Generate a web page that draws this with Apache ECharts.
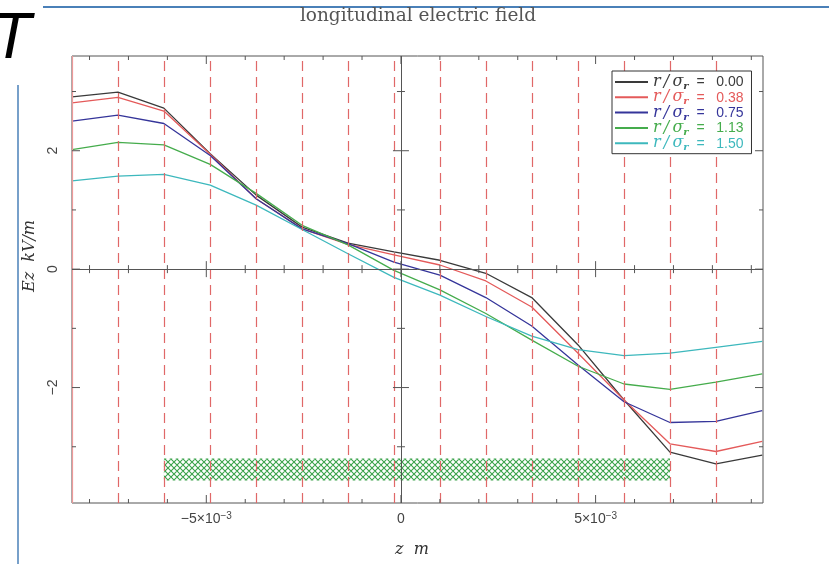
<!DOCTYPE html>
<html><head><meta charset="utf-8">
<script src="https://cdn.jsdelivr.net/npm/echarts@6/dist/echarts.min.js"></script>
<style>html,body{margin:0;padding:0;background:#fff}#c{width:829px;height:564px}</style>
</head><body><div id="c"></div>
<script>
// z positions in units of 1e-3 m (grid cell boundaries, also the red dashed markers)
const zMilli = [-8.45, -7.27, -6.09, -4.90, -3.72, -2.54, -1.36, -0.18, 1.00, 2.18, 3.36, 4.55, 5.73, 6.91, 8.09, 9.28];
const ez000 = [2.91, 2.99, 2.72, 1.95, 1.25, 0.71, 0.44, 0.29, 0.15, -0.07, -0.48, -1.28, -2.21, -3.09, -3.29, -3.14];
const ez038 = [2.81, 2.90, 2.67, 1.94, 1.19, 0.68, 0.42, 0.24, 0.07, -0.20, -0.64, -1.42, -2.21, -2.95, -3.08, -2.91];
const ez075 = [2.50, 2.60, 2.46, 1.92, 1.19, 0.68, 0.43, 0.12, -0.10, -0.48, -0.96, -1.62, -2.24, -2.59, -2.57, -2.39];
const ez113 = [2.02, 2.14, 2.10, 1.77, 1.28, 0.74, 0.41, -0.02, -0.35, -0.75, -1.20, -1.64, -1.94, -2.03, -1.91, -1.77];
const ez150 = [1.49, 1.57, 1.60, 1.42, 1.08, 0.67, 0.26, -0.14, -0.44, -0.80, -1.13, -1.36, -1.46, -1.42, -1.32, -1.22];
const radii = ['0.00', '0.38', '0.75', '1.13', '1.50'];
const seriesColors = ['#3a3a3a', '#e45a5a', '#35359a', '#45ac4c', '#3db8bd'];
const markerZ = [-8.45, -7.27, -6.09, -4.90, -3.72, -2.54, -1.36, -0.18, 1.00, 2.18, 3.36, 4.55, 5.73, 6.91, 8.09];
const bunchZ = [-6.09, 6.91];
const bunchY = [-3.57, -3.20];
const xTickValues = [-8, -7, -6, -5, -4, -3, -2, -1, 0, 1, 2, 3, 4, 5, 6, 7, 8, 9];
const xMajorTicks = [-5, 0, 5];
const yTickValues = [-3, -2, -1, 0, 1, 2, 3];
const yMajorTicks = [-2, 0, 2];
const xLabelValues = [-5, 0, 5];
const yLabelValues = [-2, 0, 2];
const xMin = -8.45, xMax = 9.3, yMin = -3.95, yMax = 3.6;

const allEz = [ez000, ez038, ez075, ez113, ez150];

// crosshatch pattern
const pat = document.createElement('canvas');
pat.width = 6; pat.height = 6;
(function () {
  const g = pat.getContext('2d');
  g.strokeStyle = '#3aa24a'; g.lineWidth = 1.1;
  g.beginPath();
  g.moveTo(0, 0); g.lineTo(6, 6);
  g.moveTo(6, 0); g.lineTo(0, 6);
  g.moveTo(-3, 3); g.lineTo(3, 9);
  g.moveTo(3, -3); g.lineTo(9, 3);
  g.stroke();
})();

function tickSeries(values, majors, dim) {
  return {
    type: 'custom', silent: true, z: 6, clip: false,
    data: values.map(v => dim === 'x' ? [v, 0] : [0, v]),
    encode: { x: 0, y: 1 },
    renderItem(params, api) {
      const v = dim === 'x' ? api.value(0) : api.value(1);
      const len = majors.includes(v) ? 8 : 4;
      const st = { stroke: '#555', lineWidth: 1 };
      const ch = [];
      if (dim === 'x') {
        const b = api.coord([v, yMin]), t = api.coord([v, yMax]), z = api.coord([v, 0]);
        ch.push({ type: 'line', shape: { x1: b[0], y1: b[1], x2: b[0], y2: b[1] - len }, style: st });
        ch.push({ type: 'line', shape: { x1: t[0], y1: t[1], x2: t[0], y2: t[1] + len }, style: st });
        ch.push({ type: 'line', shape: { x1: z[0], y1: z[1] - len, x2: z[0], y2: z[1] + len }, style: st });
      } else {
        const l = api.coord([xMin, v]), r = api.coord([xMax, v]), z = api.coord([0, v]);
        ch.push({ type: 'line', shape: { x1: l[0], y1: l[1], x2: l[0] + len, y2: l[1] }, style: st });
        ch.push({ type: 'line', shape: { x1: r[0], y1: r[1], x2: r[0] - len, y2: r[1] }, style: st });
        ch.push({ type: 'line', shape: { x1: z[0] - len, y1: z[1], x2: z[0] + len, y2: z[1] }, style: st });
      }
      return { type: 'group', children: ch };
    }
  };
}

const names = radii.map(r => 'r/σr = ' + r);
const legendRich = c => ({
  i: { fontFamily: 'DejaVu Serif', fontStyle: 'italic', fontSize: 16, lineHeight: 13, verticalAlign: 'middle', color: c },
  sub: { fontFamily: 'DejaVu Serif', fontStyle: 'italic', fontWeight: 'bold', fontSize: 10, lineHeight: 13, color: c, verticalAlign: 'top', padding: [6, 0, 0, 0] },
  n: { fontFamily: 'Liberation Sans', fontSize: 14, lineHeight: 13, verticalAlign: 'middle', padding: [1, 0, 0, 0], color: c }
});

const series = allEz.map((arr, k) => ({
  name: names[k], type: 'line', symbol: 'none', z: 4,
  lineStyle: { color: seriesColors[k], width: 1.3 },
  itemStyle: { color: seriesColors[k] },
  data: zMilli.map((z, i) => [z, arr[i]])
}));

series.push({
  type: 'line', data: [], silent: true, z: 2,
  markLine: {
    silent: true, symbol: 'none', animation: false,
    label: { show: false },
    lineStyle: { color: '#e06868', type: [10, 6], width: 1.2 },
    data: markerZ.map((v, i) => i === 0 ? { xAxis: v, lineStyle: { type: 'solid', color: '#e99' } } : { xAxis: v })
  }
});
series.push({
  type: 'line', data: [], silent: true, z: 3,
  markLine: {
    silent: true, symbol: 'none', animation: false,
    label: { show: false },
    lineStyle: { color: '#555', type: 'solid', width: 1 },
    data: [{ xAxis: 0 }, { yAxis: 0 }]
  }
});
series.push({
  type: 'custom', silent: true, z: 3,
  data: [[bunchZ[0], bunchY[0], bunchZ[1], bunchY[1]]],
  encode: { x: [0, 2], y: [1, 3] },
  renderItem(params, api) {
    const p0 = api.coord([api.value(0), api.value(3)]);
    const p1 = api.coord([api.value(2), api.value(1)]);
    return { type: 'rect', shape: { x: p0[0], y: p0[1], width: p1[0] - p0[0], height: p1[1] - p0[1] },
      style: { fill: { image: pat, repeat: 'repeat' } } };
  }
});
series.push(tickSeries(xTickValues, xMajorTicks, 'x'));
series.push(tickSeries(yTickValues, yMajorTicks, 'y'));

const chart = echarts.init(document.getElementById('c'), null, { renderer: 'canvas' });
chart.setOption({
  animation: false,
  backgroundColor: '#fff',
  grid: { left: 72, right: 66, top: 56, bottom: 61, show: true, borderColor: '#555', borderWidth: 1, backgroundColor: 'transparent' },
  xAxis: {
    type: 'value', min: xMin, max: xMax,
    axisLine: { show: false }, axisTick: { show: false }, splitLine: { show: false },
    axisLabel: {
      customValues: xLabelValues, margin: 8, color: '#444',
      formatter: v => v === 0 ? '{b|0}' : '{b|' + (v < 0 ? '−' : '') + Math.abs(v) + '×10}{s|−3}',
      rich: {
        b: { fontFamily: 'Liberation Sans', fontSize: 14, color: '#444', verticalAlign: 'bottom', lineHeight: 15 },
        s: { fontFamily: 'Liberation Sans', fontSize: 10, color: '#444', verticalAlign: 'top', lineHeight: 10, padding: [0, 0, 10, 0] }
      }
    }
  },
  yAxis: {
    type: 'value', min: yMin, max: yMax,
    axisLine: { show: false }, axisTick: { show: false }, splitLine: { show: false },
    axisLabel: { customValues: yLabelValues, rotate: 90, margin: 12, color: '#444', fontFamily: 'Liberation Sans', fontSize: 14, formatter: v => (v < 0 ? '−' : '') + Math.abs(v) }
  },
  legend: {
    orient: 'vertical', left: 612, top: 71, z: 20,
    backgroundColor: '#fff', borderColor: '#333', borderWidth: 1,
    padding: [3, 8, 1, 2], itemGap: -2.2, itemWidth: 33, itemHeight: 12,
    selectedMode: false,
    itemStyle: { opacity: 0 },
    formatter: name => '{i|r\u2009/\u2009σ}{sub|r}{n|  =   ' + name.split('= ')[1] + '}',
    data: names.map((n, k) => ({ name: n, textStyle: { color: seriesColors[k], rich: legendRich(seriesColors[k]) } }))
  },
  graphic: [
    { type: 'text', x: -8, y: 8, style: { text: 'T', font: 'italic 64px "Liberation Sans"', fill: '#000' } },
    { type: 'line', shape: { x1: 43, y1: 7, x2: 829, y2: 7 }, style: { stroke: '#4a80b8', lineWidth: 2 } },
    { type: 'line', shape: { x1: 18, y1: 85, x2: 18, y2: 564 }, style: { stroke: '#4a80b8', lineWidth: 1.5 } },
    { type: 'text', x: 418, y: 16, style: { text: 'longitudinal electric field', font: '18.5px "DejaVu Serif"', fill: '#555', align: 'center', verticalAlign: 'middle' } },
    { type: 'text', x: 30, y: 256, rotation: Math.PI / 2, style: { text: 'Ez  kV/m', font: 'italic 16px "DejaVu Serif"', fill: '#333', align: 'center', verticalAlign: 'middle' } },
    { type: 'text', x: 412, y: 550, style: { text: 'z  m', font: 'italic 16px "DejaVu Serif"', fill: '#333', align: 'center', verticalAlign: 'middle' } }
  ],
  series
});
</script></body></html>
